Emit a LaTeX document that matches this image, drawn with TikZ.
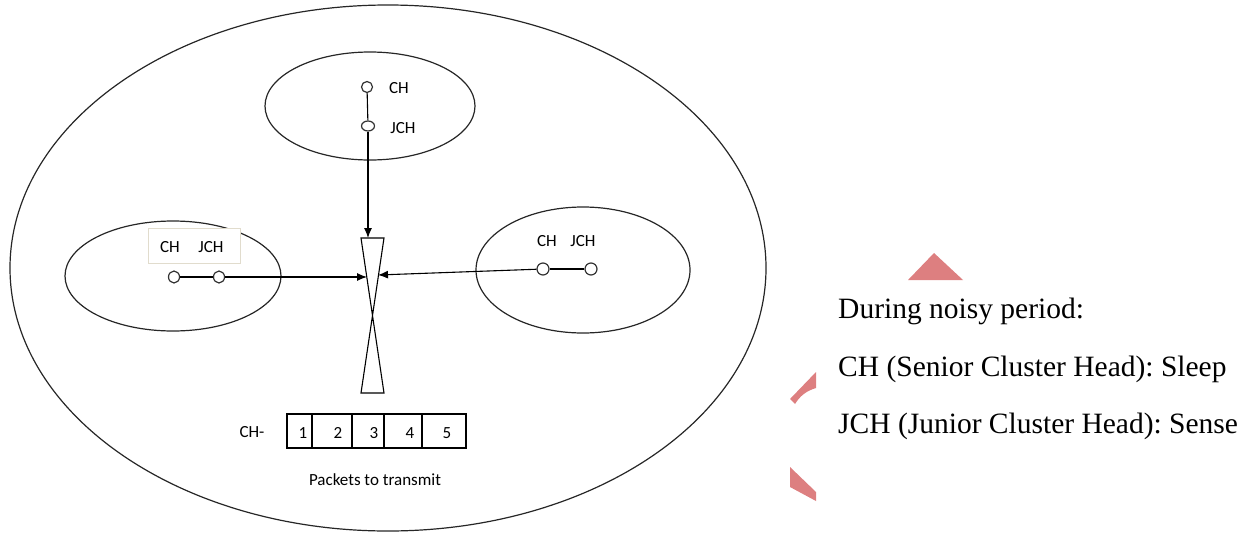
\documentclass[tikz,border=0pt]{standalone}
\usepackage{fontspec}
\setmainfont{Liberation Serif}
\newfontfamily\labelfont{Carlito}
\usetikzlibrary{arrows.meta,shapes.geometric}
\definecolor{accentpink}{RGB}{221,127,128}
\definecolor{boxedge}{RGB}{225,220,205}
\frenchspacing
\begin{document}
\begin{tikzpicture}[x=1pt,y=-1pt,
  zone/.style={draw=black!85,line width=1.2pt},
  nodept/.style={draw=black!80,fill=white,line width=1.2pt,ellipse,inner sep=0pt},
  link/.style={draw=black,line width=1.1pt},
  feed/.style={link,-{Latex[length=10pt,width=8pt]}},
  small/.style={font=\labelfont\fontsize{17}{19}\selectfont,inner sep=0pt},
  note/.style={font=\fontsize{29.5}{33}\selectfont,anchor=base west,inner sep=0pt},
  pkt/.style={draw=black,line width=1.1pt},
  shade/.style={fill=accentpink,draw=none}]
\useasboundingbox (0,0) rectangle (1246,533);

% outer network region and three clusters
\draw[zone] (388,268) ellipse [x radius=378,y radius=263];
\draw[zone] (370,106) ellipse [x radius=105,y radius=54];
\draw[zone] (173,276) ellipse [x radius=108,y radius=55];
\draw[zone] (583,270) ellipse [x radius=107,y radius=63];

% label box of the left cluster
\node[draw=boxedge,fill=white,line width=0.6pt,minimum width=92pt,minimum height=35pt,inner sep=0pt] (lbox) at (194,245.5) {};
\node[small] (lch) at (170,247) {CH};
\node[small] (ljch) at (211,247) {JCH};

% hourglass sink
\coordinate (htl) at (361,238);
\coordinate (htr) at (384,238);
\coordinate (hbl) at (361,393);
\coordinate (hbr) at (384,393);
\draw[link] (htl) -- (htr) -- (hbl) -- (hbr) -- cycle;
\coordinate (intop) at (368,238);
\coordinate (inleft) at (367,277);
\coordinate (inright) at (378,275);

% top cluster
\node[nodept,minimum width=11pt,minimum height=11pt] (tch) at (367,87) {};
\node[nodept,minimum width=13pt,minimum height=10pt] (tjch) at (368,126) {};
\node[small] (tchl) at (399,88) {CH};
\node[small] (tjchl) at (403,128) {JCH};
\draw[link] (tch) -- (tjch);
\draw[feed] (tjch) -- (intop);

% left cluster
\node[nodept,minimum width=11pt,minimum height=12pt] (lchn) at (174,277) {};
\node[nodept,minimum width=11pt,minimum height=12pt] (ljchn) at (219,277) {};
\draw[link] (lchn) -- (ljchn);
\draw[feed] (ljchn) -- (inleft);

% right cluster
\node[nodept,minimum width=12pt,minimum height=12pt] (rchn) at (543,269) {};
\node[nodept,minimum width=12pt,minimum height=12pt] (rjchn) at (591,269) {};
\node[small] (rch) at (547,241) {CH};
\node[small] (rjch) at (583,241) {JCH};
\draw[link] (rjchn) -- (rchn);
\draw[feed] (rchn) -- (inright);

% packet queue
\node[small] (qlabel) at (252,432) {CH-};
\draw[pkt] (287,414) rectangle (466,448);
\foreach \x in {312,352,384,422} \draw[pkt] (\x,414) -- (\x,448);
\node[small] (p1) at (303,433) {1};
\node[small] (p2) at (338,433) {2};
\node[small] (p3) at (374,433) {3};
\node[small] (p4) at (410,433) {4};
\node[small] (p5) at (447,433) {5};
\node[small] (qcap) at (375,480) {Packets to transmit};

% decorative shapes
\fill[shade] (934,253) -- (963,280) -- (908,280) -- cycle;
\fill[shade] (790,399) -- (816,372) -- (816,388) .. controls (806,391) and (800,396) .. (795,404) -- cycle;
\fill[shade] (790,467) -- (816,492) -- (816,501) -- (790,487) -- cycle;

% legend
\node[note] (n1) at (838,318) {During noisy period:};
\node[note] (n2) at (838,376) {CH (Senior Cluster Head): Sleep};
\node[note] (n3) at (838,433) {JCH (Junior Cluster Head): Sense};
\end{tikzpicture}
\end{document}
